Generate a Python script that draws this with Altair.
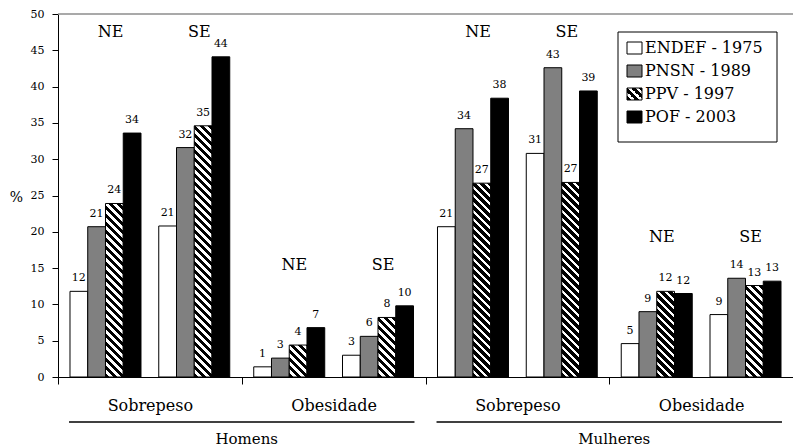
import math
import altair as alt

# Surveys (legend order) and the fill used for each one
series = ["ENDEF - 1975", "PNSN - 1989", "PPV - 1997", "POF - 2003"]
series_fill = ["#ffffff", "#808080", "hatch", "#000000"]

sexes = ["Homens", "Mulheres"]
measures = ["Sobrepeso", "Obesidade"]
regions = ["NE", "SE"]

# Prevalence (%) by survey, one value per cluster in this order:
# Homens/Sobrepeso NE, SE | Homens/Obesidade NE, SE |
# Mulheres/Sobrepeso NE, SE | Mulheres/Obesidade NE, SE
endef_1975 = [11.8, 20.8, 1.4, 3.0, 20.7, 30.8, 4.6, 8.6]
pnsn_1989 = [20.7, 31.6, 2.6, 5.6, 34.2, 42.6, 9.0, 13.6]
ppv_1997 = [23.9, 34.6, 4.4, 8.2, 26.7, 26.8, 11.8, 12.6]
pof_2003 = [33.6, 44.1, 6.8, 9.8, 38.4, 39.4, 11.5, 13.2]
series_values = [endef_1975, pnsn_1989, ppv_1997, pof_2003]

y_ticks = list(range(0, 51, 5))

# ---- layout ----
W, H = 735, 363
Y_MAX = 50
FONT = "DejaVu Serif"
cats = [f"{s}|{m}" for s in sexes for m in measures]
slots = ["NE0", "NE1", "NE2", "NE3", "gap", "SE0", "SE1", "SE2", "SE3"]
PAD_OUTER = 0.676
slot_w = (W / len(cats)) / (len(slots) + 2 * PAD_OUTER)
px_per_unit = H / Y_MAX


def hatch(w, h, period=8.0, white=0.45):
    """Black fill with white '\\' stripes at 45 degrees, as a bounding-box gradient."""
    length = (w + h) / math.sqrt(2)
    step = period / math.sqrt(2)
    s = (w + h) / (w * w + h * h)
    stops = []
    k = 0
    while k * step < length:
        a = k * step / length
        b = min((k * step + step * (1 - white)) / length, 1.0)
        c = min((k + 1) * step / length, 1.0)
        stops += [
            {"offset": a, "color": "#000000"},
            {"offset": b, "color": "#000000"},
            {"offset": b, "color": "#ffffff"},
            {"offset": c, "color": "#ffffff"},
        ]
        k += 1
    return {"gradient": "linear", "x1": 0, "y1": 1, "x2": w * s, "y2": 1 - h * s,
            "stops": stops}


def paint_for(i, w, h):
    return hatch(w, h) if series_fill[i] == "hatch" else series_fill[i]


bar_rows, region_rows = [], []
for c in range(len(cats) * len(regions)):
    sex, measure, region = sexes[c // 4], measures[(c // 2) % 2], regions[c % 2]
    cat = f"{sex}|{measure}"
    for i, vals in enumerate(series_values):
        v = vals[c]
        bar_rows.append({"cat": cat, "slot": f"{region}{i}", "series": series[i],
                         "value": v, "paint": paint_for(i, slot_w, v * px_per_unit)})

# NE / SE captions sit a little above the tallest bar of their category
cat_max = {}
for r in bar_rows:
    cat_max[r["cat"]] = max(cat_max.get(r["cat"], 0), r["value"])
for c in range(len(cats) * len(regions)):
    sex, measure, region = sexes[c // 4], measures[(c // 2) % 2], regions[c % 2]
    cat = f"{sex}|{measure}"
    region_rows.append({"cat": cat, "slot": f"{region}1", "text": region,
                        "value": min(cat_max[cat] + 5, Y_MAX - 3.2)})

x_scale = alt.Scale(domain=cats, paddingInner=0, paddingOuter=0)
x_axis = alt.Axis(title=None, tickBand="extent", tickSize=7, labelPadding=13,
                  labelAngle=0, labelFont=FONT, labelFontSize=16,
                  labelColor="black", domainColor="black", tickColor="black",
                  labelExpr="split(datum.label, '|')[1]")
x_enc = alt.X("cat:N", scale=x_scale, axis=x_axis)
off_enc = alt.XOffset("slot:N", scale=alt.Scale(domain=slots, paddingInner=0,
                                                paddingOuter=PAD_OUTER))
y_scale = alt.Scale(domain=[0, Y_MAX], nice=False)
y_axis = alt.Axis(values=y_ticks, grid=False, tickSize=6, labelPadding=8,
                  labelFont=FONT, labelFontSize=11, labelColor="black",
                  labelFlush=False, labelOverlap=False,
                  domainColor="black", tickColor="black",
                  title="%", titleAngle=0, titleFont=FONT, titleFontSize=14,
                  titleFontWeight="normal", titleColor="black",
                  titleAlign="center", titleBaseline="middle",
                  titleX=-42, titleY=183)
y_enc = alt.Y("value:Q", scale=y_scale, axis=y_axis)

bars_data = alt.Data(values=bar_rows)

bars = alt.Chart(bars_data).mark_bar(stroke="black", strokeWidth=1).encode(
    x=x_enc, xOffset=off_enc, y=y_enc,
    fill=alt.Fill("paint:N", scale=None),
)

top_rule = alt.Chart(alt.Data(values=[{}])).mark_rule(
    color="#8c8c8c", strokeWidth=1.5
).encode(y=alt.YDatum(Y_MAX, scale=y_scale, axis=y_axis))

value_labels = alt.Chart(bars_data).mark_text(
    font=FONT, fontSize=11, color="black", baseline="alphabetic", dy=-10
).encode(x=x_enc, xOffset=off_enc, y=y_enc,
         text=alt.Text("value:Q", format=".0f"))

region_labels = alt.Chart(alt.Data(values=region_rows)).mark_text(
    font=FONT, fontSize=16, color="black", baseline="alphabetic", dx=slot_w / 2 + 5
).encode(x=x_enc, xOffset=off_enc, y=y_enc, text="text:N")

# Legend box
LX, LY, ROW = 560, 18, 23
legend_layers = [
    alt.Chart(alt.Data(values=[{}])).mark_rect(
        fill="white", stroke="black", strokeWidth=1
    ).encode(x=alt.value(LX), x2=alt.value(LX + 159),
             y=alt.value(LY), y2=alt.value(LY + 110))
]
for i, name in enumerate(series):
    yc = LY + 16 + i * ROW
    legend_layers.append(
        alt.Chart(alt.Data(values=[{}])).mark_rect(stroke="black", strokeWidth=1).encode(
            x=alt.value(LX + 9), x2=alt.value(LX + 24),
            y=alt.value(yc - 6), y2=alt.value(yc + 6),
            fill=alt.value(paint_for(i, 15, 12)))
    )
    legend_layers.append(
        alt.Chart(alt.Data(values=[{"label": name}])).mark_text(
            font=FONT, fontSize=16, color="black", align="left", baseline="middle"
        ).encode(x=alt.value(LX + 27), y=alt.value(yc), text="label:N")
    )

main = alt.layer(bars, top_rule, value_labels, region_labels, *legend_layers)

# Sex grouping under the category axis
group_rows = [{"sex": s, "g0": 2 * i + 0.06, "g1": 2 * i + 2 - 0.06, "mid": 2 * i + 1}
              for i, s in enumerate(sexes)]
gscale = alt.Scale(domain=[0, 2 * len(sexes)], nice=False, zero=False)
group_rules = alt.Chart(alt.Data(values=group_rows)).mark_rule(
    color="black", strokeWidth=1.5
).encode(x=alt.X("g0:Q", scale=gscale, axis=None), x2="g1:Q", y=alt.value(408))
group_labels = alt.Chart(alt.Data(values=group_rows)).mark_text(
    font=FONT, fontSize=15, color="black", baseline="alphabetic", dx=5
).encode(x=alt.X("mid:Q", scale=gscale, axis=None), y=alt.value(430), text="sex:N")

chart = alt.layer(main, alt.layer(group_rules, group_labels)).resolve_scale(
    x="independent"
).properties(
    width=W, height=H,
    padding={"left": 58, "top": 14, "right": 0, "bottom": 70},
    autosize=alt.AutoSizeParams(type="none"),
    background="white",
).configure_view(stroke=None)

chart.save("out.html", embed_options={"renderer": "svg", "actions": False})
